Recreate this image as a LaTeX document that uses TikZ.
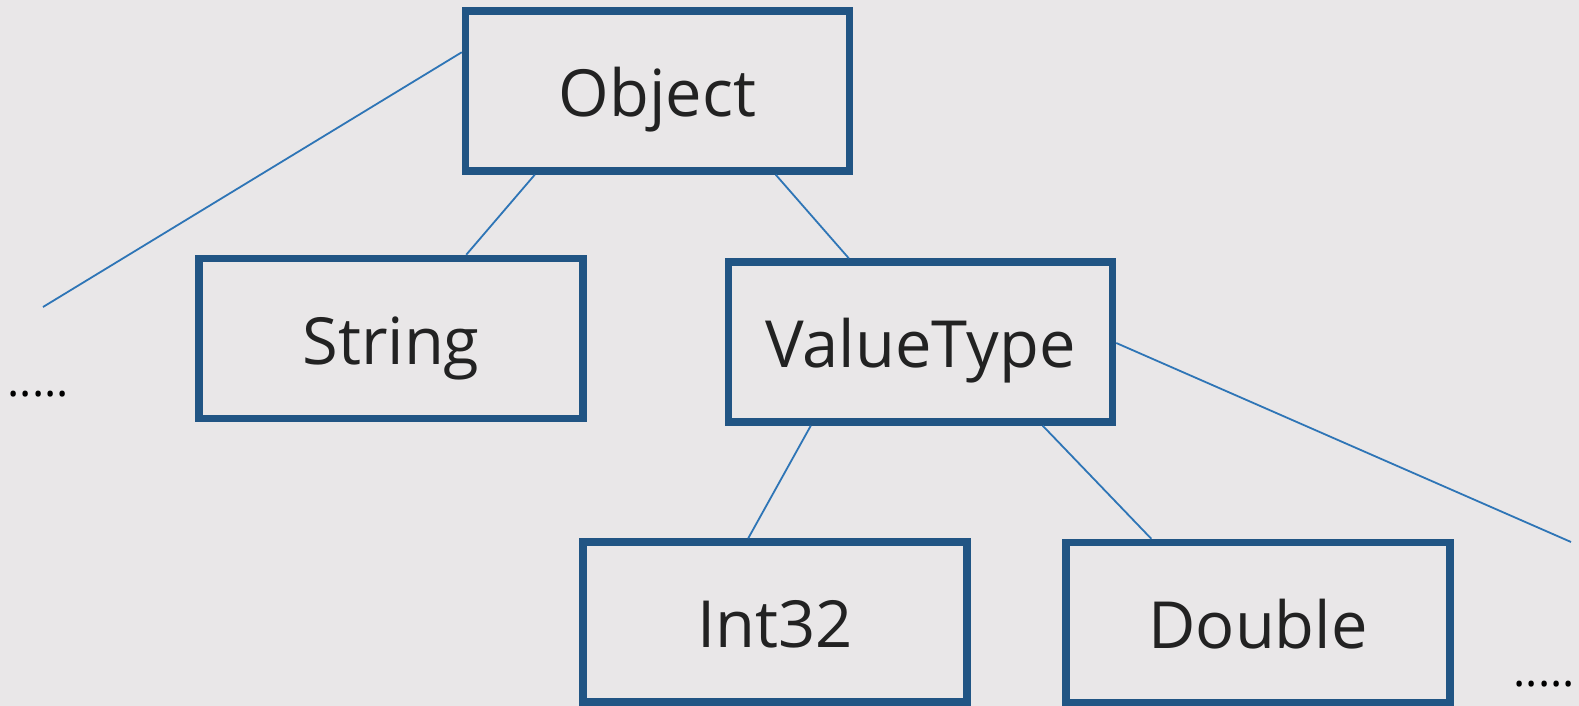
\documentclass[tikz,border=0pt]{standalone}
\usepackage{fontspec}
\setmainfont{Open Sans}
\usetikzlibrary{calc}
\definecolor{bg}{HTML}{E9E7E8}
\definecolor{boxblue}{HTML}{215584}
\definecolor{linkblue}{HTML}{2E75B6}
\definecolor{txt}{HTML}{222222}
\tikzset{
  typebox/.style={draw=boxblue, line width=7.5pt, rectangle, inner sep=0pt,
    minimum width=384pt, minimum height=160pt, text=txt,
    font=\fontsize{65}{78}\selectfont, text height=51pt, text depth=0pt},
  link/.style={draw=linkblue, line width=1.8pt},
  more/.style={text=black, font=\fontsize{46}{50}\selectfont, anchor=base, inner sep=0pt}
}
\begin{document}
\begin{tikzpicture}[x=1pt,y=-1pt]
\fill[bg] (0,0) rectangle (1579,706);
\useasboundingbox (0,0) rectangle (1579,706);
\node[typebox] (obj) at (657.5,91) {Object};
\node[typebox] (str) at (391,338.5) {String};
\node[typebox] (vt) at (920.5,342) {ValueType};
\node[typebox] (int) at (775,622) {Int32};
\node[typebox] (dbl) at (1258,622.5) {Double};
\coordinate (lend) at (43,307);
\coordinate (rend) at (1571,542);
\node[more] (ldots) at (38.2,396) {.....};
\node[more] (rdots) at (1544.3,686) {.....};
\draw[link] ($(obj.north west)+(0,45)$) -- (lend);
\draw[link] ($(obj.south west)+(73,0)$) -- ($(str.north west)+(271,0)$);
\draw[link] ($(obj.south west)+(314,0)$) -- ($(vt.north west)+(124,0)$);
\draw[link] ($(vt.east)+(0,1)$) -- (rend);
\draw[link] ($(vt.south west)+(86,0)$) -- ($(int.north west)+(169,0)$);
\draw[link] ($(vt.south west)+(318,0)$) -- ($(dbl.north west)+(89,0)$);
\end{tikzpicture}
\end{document}
